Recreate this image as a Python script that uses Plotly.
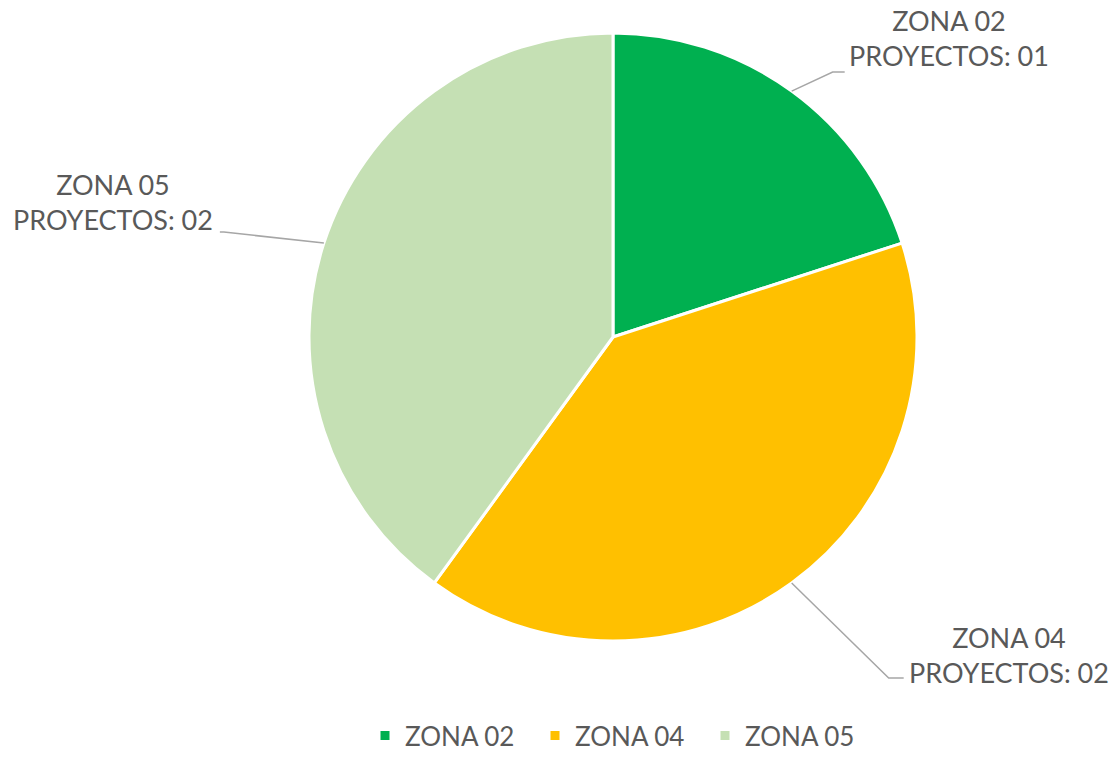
import math
import plotly.graph_objects as go

labels = ["ZONA 02", "ZONA 04", "ZONA 05"]
values = [1, 2, 2]
label_texts = ["ZONA 02<br>PROYECTOS: 01", "ZONA 04<br>PROYECTOS: 02", "ZONA 05<br>PROYECTOS: 02"]
colors = ["#00B050", "#FFC000", "#C5E0B4"]

W, H = 1112, 759
cx, cy, R = 613, 337, 304  # pie centre/radius in pixels

fig = go.Figure(go.Pie(
    labels=labels, values=values, sort=False, direction="clockwise", rotation=0,
    marker=dict(colors=colors, line=dict(color="white", width=3)),
    textinfo="none", hoverinfo="label+value",
    domain=dict(x=[(cx - R) / W, (cx + R) / W], y=[(H - cy - R) / H, (H - cy + R) / H]),
))

def px2paper(x, y):
    return x / W, (H - y) / H

layouts = [
    dict(elbow=(41, -19), run=12, text=(949, 38)),
    dict(elbow=(97, 95), run=15, text=(1009, 655)),
    dict(elbow=(-100, -11), run=-4, text=(113, 202)),
]
total = sum(values)
cum = 0
for v, t, lay in zip(values, label_texts, layouts):
    mid = (cum + v / 2) / total * 2 * math.pi
    cum += v
    ex, ey = cx + R * math.sin(mid), cy - R * math.cos(mid)
    bx, by = ex + lay["elbow"][0], ey + lay["elbow"][1]
    hx = bx + lay["run"]
    p0, p1, p2 = px2paper(ex, ey), px2paper(bx, by), px2paper(hx, by)
    fig.add_shape(type="path", xref="paper", yref="paper",
                  path=f"M {p0[0]} {p0[1]} L {p1[0]} {p1[1]} L {p2[0]} {p2[1]}",
                  line=dict(color="#A6A6A6", width=1.5))
    tx, ty = px2paper(*lay["text"])
    fig.add_annotation(x=tx, y=ty, xref="paper", yref="paper", text=t, showarrow=False,
                       xanchor="center", yanchor="middle", align="center",
                       font=dict(size=27, color="#595959", family="Lato, Open Sans, sans-serif"))

fig.update_layout(
    width=W, height=H, margin=dict(l=0, r=0, t=0, b=0, autoexpand=False),
    paper_bgcolor="white", plot_bgcolor="white",
    font=dict(family="Lato, Open Sans, sans-serif", color="#595959", size=27),
    legend=dict(orientation="h", x=365 / W, xanchor="left", y=0, yanchor="bottom",
                yref="paper", font=dict(size=26, color="#595959"), itemwidth=30,
                entrywidth=125, entrywidthmode="pixels", traceorder="normal",
                valign="middle", tracegroupgap=0),
)
fig.write_html("out.html", config={"displayModeBar": False},
               post_script="document.body.style.margin='0';document.body.style.overflow='hidden';")
